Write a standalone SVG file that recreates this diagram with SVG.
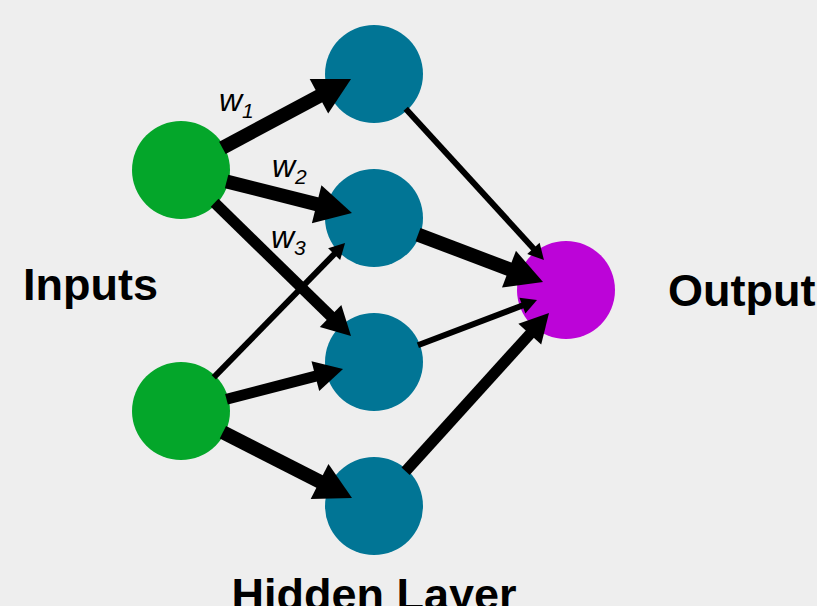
<svg xmlns="http://www.w3.org/2000/svg" width="817" height="606" viewBox="0 0 817 606">
  <style>
    .input { fill: #04a62a; }
    .hidden { fill: #017595; }
    .output { fill: #bc04d8; }
    .edge { stroke: #000; fill: none; stroke-linecap: butt; marker-end: url(#head); }
    .thick { stroke-width: 14; }
    .mid { stroke-width: 11; }
    .thin { stroke-width: 6; }
    .label { font-family: "Liberation Sans", Arial, sans-serif; font-weight: bold; font-size: 45px; fill: #000; }
    .weight { font-family: "Liberation Sans", Arial, sans-serif; font-style: italic; font-size: 32px; fill: #000; }
    .sub { font-size: 21px; }
  </style>
  <defs>
    <!-- arrowhead scales with the stroke width; refX sits at the middle of the head -->
    <marker id="head" markerUnits="strokeWidth" markerWidth="2.6" markerHeight="2.8"
            viewBox="0 0 2.6 2.8" refX="1.3" refY="1.4" orient="auto" overflow="visible">
      <path d="M0,0 L2.6,1.4 L0,2.8 z" fill="#000"/>
    </marker>
  </defs>

  <rect width="817" height="606" fill="#eeeeee"/>

  <!-- neurons -->
  <g id="input1"><circle class="input" cx="181" cy="170" r="49"/></g>
  <g id="input2"><circle class="input" cx="181" cy="411" r="49"/></g>
  <g id="hidden1"><circle class="hidden" cx="374" cy="74" r="49"/></g>
  <g id="hidden2"><circle class="hidden" cx="374" cy="218" r="49"/></g>
  <g id="hidden3"><circle class="hidden" cx="374" cy="362" r="49"/></g>
  <g id="hidden4"><circle class="hidden" cx="374" cy="506" r="49"/></g>
  <g id="output"><circle class="output" cx="566" cy="290" r="49"/></g>

  <!-- weighted connections -->
  <g id="connectors">
    <line class="edge thick" x1="222.4" y1="147.8" x2="335.0" y2="87.6"/>
    <line class="edge thick" x1="226.6" y1="181.5" x2="334.3" y2="208.6"/>
    <line class="edge mid" x1="214.6" y1="202.8" x2="340.8" y2="326.0"/>
    <line class="edge thin" x1="213.8" y1="377.4" x2="339.6" y2="248.6"/>
    <line class="edge mid" x1="226.5" y1="399.2" x2="329.2" y2="372.6"/>
    <line class="edge thick" x1="222.9" y1="432.3" x2="335.8" y2="489.7"/>
    <line class="edge thin" x1="405.7" y1="108.7" x2="538.7" y2="254.2"/>
    <line class="edge thick" x1="418.0" y1="234.6" x2="526.0" y2="275.6"/>
    <line class="edge thin" x1="417.9" y1="345.3" x2="529.7" y2="302.8"/>
    <line class="edge mid" x1="405.6" y1="471.2" x2="539.4" y2="323.6"/>
  </g>

  <!-- weight labels -->
  <text class="weight" x="219" y="111">w<tspan class="sub" dy="7">1</tspan></text>
  <text class="weight" x="272" y="177">w<tspan class="sub" dy="6.5">2</tspan></text>
  <text class="weight" x="271" y="247.5">w<tspan class="sub" dy="7">3</tspan></text>

  <!-- layer labels -->
  <text class="label" x="23" y="300">Inputs</text>
  <text class="label" x="668" y="306">Output</text>
  <text class="label" x="374" y="610" text-anchor="middle">Hidden Layer</text>
</svg>
